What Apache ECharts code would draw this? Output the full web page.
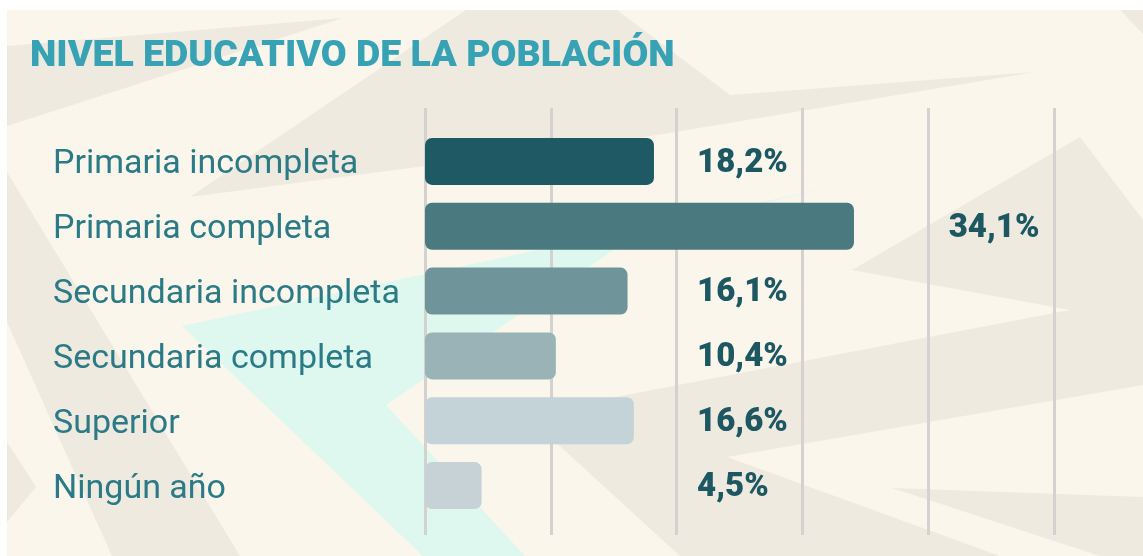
<!DOCTYPE html>
<html>
<head>
<meta charset="utf-8">
<script src="https://cdn.jsdelivr.net/npm/echarts@6/dist/echarts.min.js"></script>
<style>
  html, body { margin: 0; padding: 0; background: #ffffff; }
  #chart { width: 1143px; height: 556px; }
</style>
</head>
<body>
<div id="chart"></div>
<script>
const categories = [
  'Primaria incompleta',
  'Primaria completa',
  'Secundaria incompleta',
  'Secundaria completa',
  'Superior',
  'Ningún año',
]
const values = [18.2, 34.1, 16.1, 10.4, 16.6, 4.5]
const xMin = 0
const xMax = 50
const xStep = 10

const COLORS = ['#1f5a64', '#4a7a80', '#6f959b', '#9ab3b7', '#c4d3d7', '#c6d2d6']
const CREAM = '#faf6ec'
const BEIGE = '#eeeae0'
const MINT = '#dff8ef'

// value labels sit in the grid column after the one the bar ends in (never before 20)
const labelSlot = (v) => Math.max(2 * xStep, Math.ceil(v / xStep) * xStep)
const fmt = (v) => v.toFixed(1).replace('.', ',') + '%'

function poly(points, fill) {
  return { type: 'polygon', z: -10, silent: true, shape: { points }, style: { fill } }
}

const background = [
  { type: 'rect', z: -20, silent: true, shape: { x: 7, y: 10, width: 1136, height: 546 }, style: { fill: CREAM } },
  poly([[7, 46], [343, 18], [7, 126]], BEIGE),
  poly([[466, 10], [617, 10], [730, 95], [1035, 72], [645, 137], [190, 197]], BEIGE),
  poly([[1120, 10], [1143, 10], [1143, 34]], BEIGE),
  poly([[852, 270], [1080, 137], [1143, 220], [1143, 385], [727, 457], [1000, 556], [680, 556], [550, 437], [600, 400], [1070, 310]], BEIGE),
  poly([[892, 488], [1143, 497], [1143, 556], [1100, 556]], BEIGE),
  poly([[7, 172], [240, 556], [112, 556], [7, 322]], BEIGE),
  poly([[7, 442], [36, 487], [7, 522]], BEIGE),
  poly([[837, 186], [182, 326], [423, 556], [525, 556], [386, 405], [640, 232]], MINT),
]

const chart = echarts.init(document.getElementById('chart'))

chart.setOption({
  animation: false,
  title: {
    text: 'NIVEL EDUCATIVO DE LA POBLACIÓN',
    left: 25,
    top: 33,
    textStyle: { color: '#36a2b4', fontFamily: 'Roboto', fontWeight: 900, fontSize: 37.5 },
  },
  graphic: background,
  grid: [
    { left: 425, right: 89, top: 108, bottom: 21 },
    { left: 425, right: 89, top: 129, height: 389 },
  ],
  xAxis: [
    {
      gridIndex: 0, type: 'value', min: xMin, max: xMax, interval: xStep,
      axisLine: { show: false }, axisTick: { show: false }, axisLabel: { show: false },
      splitLine: { show: true, lineStyle: { color: '#d3d2d0', width: 3 } },
    },
    {
      gridIndex: 1, type: 'value', min: xMin, max: xMax, interval: xStep,
      axisLine: { show: false }, axisTick: { show: false }, axisLabel: { show: false },
      splitLine: { show: false },
    },
  ],
  yAxis: [
    { gridIndex: 0, type: 'value', min: 0, max: 1, show: false },
    {
      gridIndex: 1, type: 'category', data: categories, inverse: true,
      axisLine: { show: false }, axisTick: { show: false },
      axisLabel: {
        align: 'left', margin: 372,
        formatter: (v) => `{t|${v}}`,
        rich: {
          t: {
            padding: [7, 0, 0, 0],
            color: '#2c7a86', fontFamily: 'Roboto', fontWeight: 400, fontSize: 34,
          },
        },
      },
    },
  ],
  series: [
    {
      type: 'bar', xAxisIndex: 1, yAxisIndex: 1, barWidth: 47,
      data: values.map((v, i) => ({ value: v, itemStyle: { color: COLORS[i], borderRadius: 7 } })),
    },
    {
      type: 'scatter', xAxisIndex: 1, yAxisIndex: 1, symbolSize: 1,
      itemStyle: { color: 'rgba(0,0,0,0)', opacity: 1 },
      label: {
        show: true, position: 'right', distance: 20, offset: [0, 2],
        color: '#1d5761', fontFamily: 'Roboto', fontWeight: 900, fontSize: 33,
        formatter: (p) => fmt(values[p.dataIndex]),
      },
      data: values.map((v, i) => [labelSlot(v), categories[i]]),
    },
  ],
})
</script>
</body>
</html>
